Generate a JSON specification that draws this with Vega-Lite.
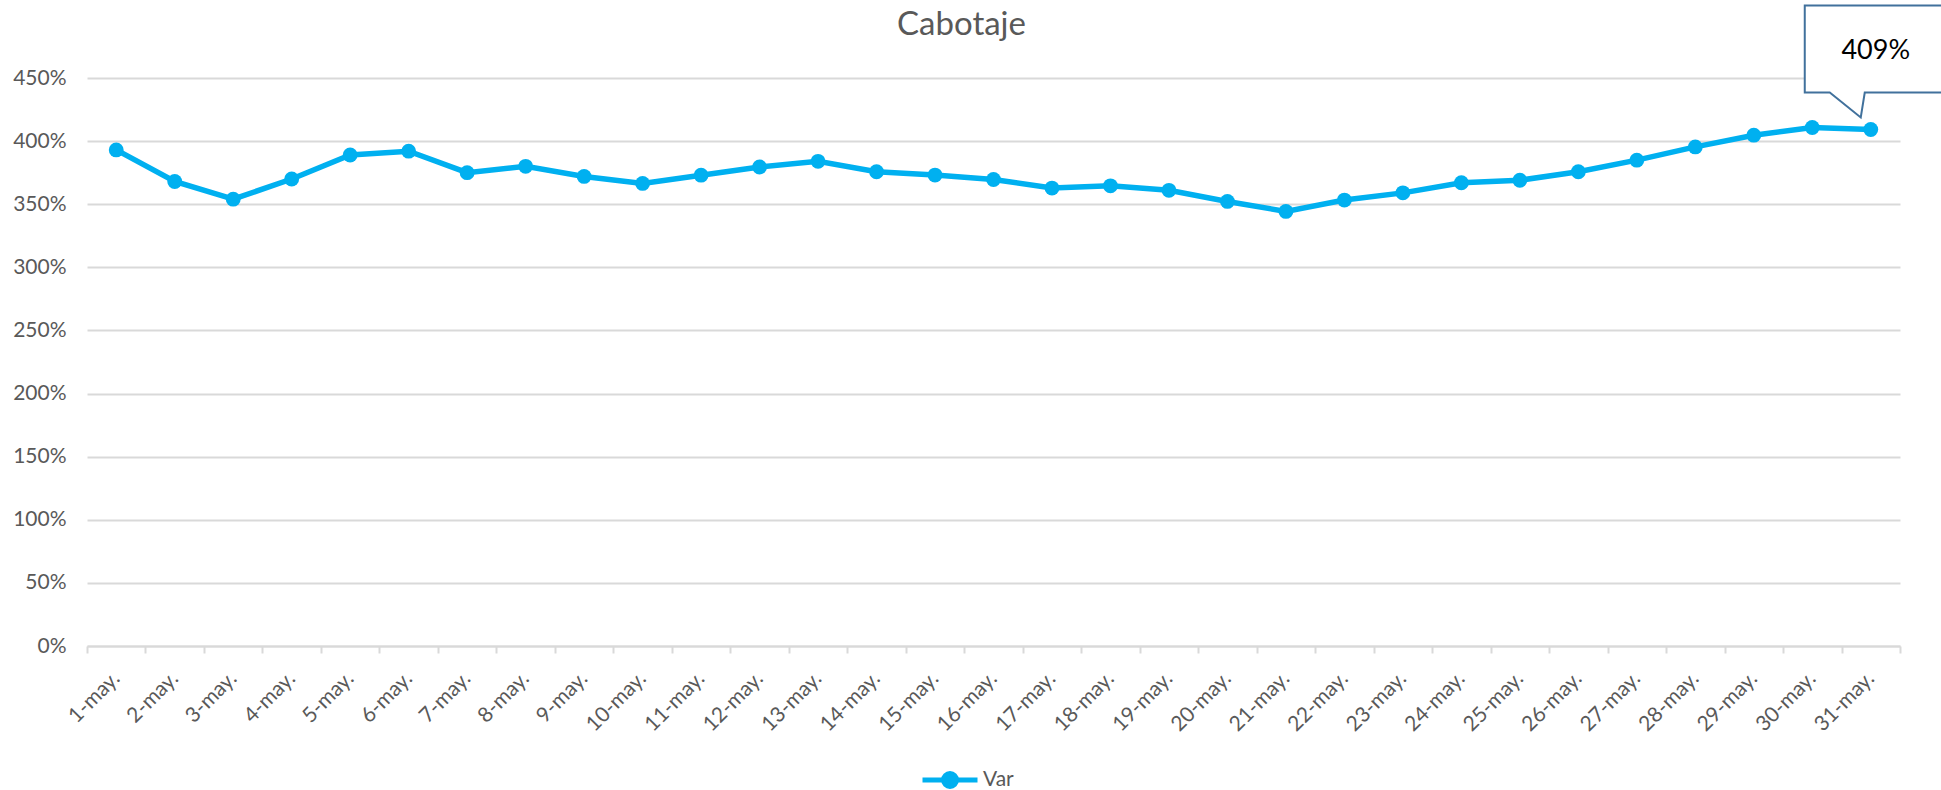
{
  "$schema": "https://vega.github.io/schema/vega-lite/v6.json",
  "width": 1813,
  "height": 568,
  "autosize": {"type": "none"},
  "padding": {"left": 87, "top": 78, "right": 41, "bottom": 144},
  "background": "white",
  "title": {
    "text": "Cabotaje",
    "fontSize": 33,
    "font": "Lato",
    "fontWeight": "normal",
    "color": "#595959",
    "anchor": "middle",
    "frame": "group",
    "baseline": "alphabetic",
    "offset": 0,
    "dy": 67,
    "dx": -32
  },
  "config": {
    "font": "Lato",
    "view": {"stroke": null},
    "axis": {"labelFont": "Lato", "labelColor": "#595959", "labelFontSize": 21, "title": null}
  },
  "data": {
    "values": [
      {"day": "1-may.", "value": 3.93, "serie": "Var"},
      {"day": "2-may.", "value": 3.68, "serie": "Var"},
      {"day": "3-may.", "value": 3.54, "serie": "Var"},
      {"day": "4-may.", "value": 3.70, "serie": "Var"},
      {"day": "5-may.", "value": 3.89, "serie": "Var"},
      {"day": "6-may.", "value": 3.92, "serie": "Var"},
      {"day": "7-may.", "value": 3.75, "serie": "Var"},
      {"day": "8-may.", "value": 3.80, "serie": "Var"},
      {"day": "9-may.", "value": 3.72, "serie": "Var"},
      {"day": "10-may.", "value": 3.665, "serie": "Var"},
      {"day": "11-may.", "value": 3.73, "serie": "Var"},
      {"day": "12-may.", "value": 3.795, "serie": "Var"},
      {"day": "13-may.", "value": 3.84, "serie": "Var"},
      {"day": "14-may.", "value": 3.757, "serie": "Var"},
      {"day": "15-may.", "value": 3.731, "serie": "Var"},
      {"day": "16-may.", "value": 3.696, "serie": "Var"},
      {"day": "17-may.", "value": 3.628, "serie": "Var"},
      {"day": "18-may.", "value": 3.646, "serie": "Var"},
      {"day": "19-may.", "value": 3.61, "serie": "Var"},
      {"day": "20-may.", "value": 3.522, "serie": "Var"},
      {"day": "21-may.", "value": 3.443, "serie": "Var"},
      {"day": "22-may.", "value": 3.533, "serie": "Var"},
      {"day": "23-may.", "value": 3.59, "serie": "Var"},
      {"day": "24-may.", "value": 3.67, "serie": "Var"},
      {"day": "25-may.", "value": 3.69, "serie": "Var"},
      {"day": "26-may.", "value": 3.757, "serie": "Var"},
      {"day": "27-may.", "value": 3.849, "serie": "Var"},
      {"day": "28-may.", "value": 3.954, "serie": "Var"},
      {"day": "29-may.", "value": 4.047, "serie": "Var"},
      {"day": "30-may.", "value": 4.108, "serie": "Var"},
      {"day": "31-may.", "value": 4.092, "serie": "Var"}
    ]
  },
  "encoding": {
    "x": {
      "field": "day",
      "type": "ordinal",
      "sort": null,
      "scale": {"type": "band", "paddingInner": 0, "paddingOuter": 0},
      "axis": {
        "tickBand": "extent",
        "labelAngle": -45,
        "labelAlign": "right",
        "labelBaseline": "middle",
        "labelPadding": 22,
        "tickSize": 7,
        "tickColor": "#d9d9d9",
        "tickWidth": 2,
        "domainColor": "#d9d9d9",
        "domainWidth": 2,
        "grid": false,
        "labelOverlap": false
      }
    },
    "y": {
      "field": "value",
      "type": "quantitative",
      "scale": {"domain": [0, 4.5], "nice": false},
      "axis": {
        "values": [0, 0.5, 1, 1.5, 2, 2.5, 3, 3.5, 4, 4.5],
        "format": ".0%",
        "domain": false,
        "ticks": false,
        "tickSize": 0,
        "labelPadding": 21,
        "grid": true,
        "gridColor": "#d9d9d9",
        "gridWidth": 2
      }
    }
  },
  "layer": [
    {
      "mark": {"type": "line", "strokeWidth": 5.5, "color": "#00B0F0"},
      "encoding": {
        "color": {
          "field": "serie",
          "type": "nominal",
          "scale": {"range": ["#00B0F0"]},
          "legend": {
            "orient": "none",
            "legendX": 833,
            "legendY": 672,
            "padding": 0,
            "title": null,
            "symbolType": "M-1,0L1,0M-0.236,0A0.236,0.236,0,1,0,0.236,0A0.236,0.236,0,1,0,-0.236,0Z",
            "symbolSize": 3025,
            "symbolStrokeWidth": 5,
            "symbolFillColor": "#00B0F0",
            "symbolStrokeColor": "#00B0F0",
            "labelFont": "Lato",
            "labelFontSize": 21,
            "labelColor": "#595959",
            "labelOffset": 3,
            "encode": {"symbols": {"update": {"fill": {"value": "#00B0F0"}, "stroke": {"value": "#00B0F0"}}}}
          }
        }
      }
    },
    {
      "mark": {"type": "point", "filled": true, "size": 220, "opacity": 1, "color": "#00B0F0"}
    },
    {
      "transform": [{"filter": "datum.day === '31-may.'"}],
      "mark": {
        "type": "point",
        "shape": "M-66,-124L90,-124L90,-37L-6,-37L-10,-12L-41,-37L-66,-37Z",
        "size": 4,
        "filled": true,
        "fill": "white",
        "fillOpacity": 1,
        "opacity": 1,
        "stroke": "#41719C",
        "strokeWidth": 2
      }
    },
    {
      "transform": [{"filter": "datum.day === '31-may.'"}],
      "mark": {"type": "text", "text": "409%", "font": "Lato", "fontSize": 27, "color": "black", "dx": 5, "dy": -78, "baseline": "middle", "align": "center"}
    }
  ]
}
